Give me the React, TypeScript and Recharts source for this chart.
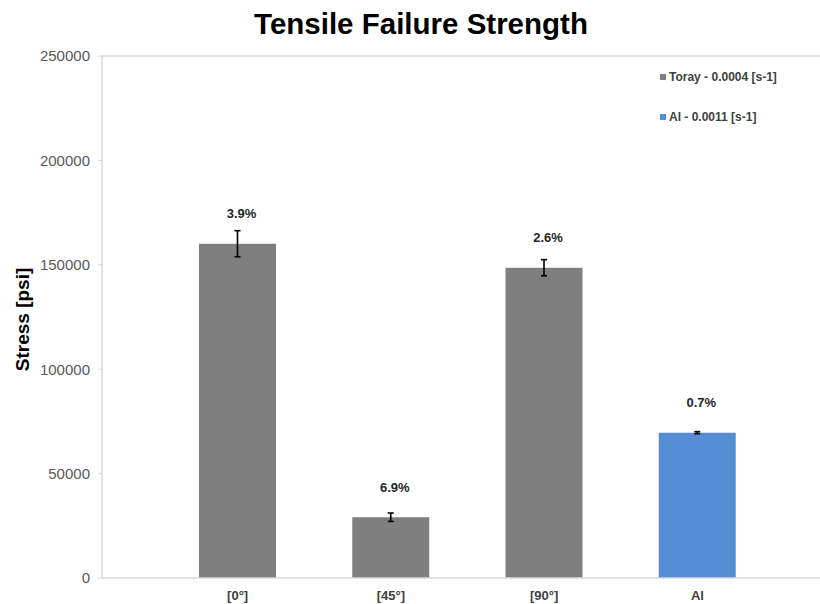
import React from 'react';
import {
  BarChart,
  Bar,
  XAxis,
  YAxis,
  ErrorBar,
  LabelList,
  Legend,
  ReferenceLine,
  Cell,
} from 'recharts';

// Specimen groups along the x axis
const categories = ['[0°]', '[45°]', '[90°]', 'Al'];
// Mean tensile failure stress, psi
const stressPsi = [160100, 29100, 148600, 69600];
// Standard deviation of the failure stress, psi
const stressStdDev = [6240, 2010, 3860, 490];
// Coefficient of variation shown above each bar
const variationLabels = ['3.9%', '6.9%', '2.6%', '0.7%'];
// Which material series each bar belongs to
const seriesOfBar = ['toray', 'toray', 'toray', 'al'];
// Legend entries
const seriesKeys = ['toray', 'al'];
const seriesNames = ['Toray - 0.0004 [s-1]', 'Al - 0.0011 [s-1]'];
// Stress axis ticks
const yTicks = [0, 50000, 100000, 150000, 200000, 250000];

const FONT = '"Liberation Sans", Arial, Helvetica, sans-serif';
const COLORS: Record<string, string> = { toray: '#7f7f7f', al: '#558ed5' };
const AXIS_GRAY = '#d9d9d9';

const data = categories.map((name, i) => ({
  name,
  stress: stressPsi[i],
  sd: stressStdDev[i],
  cv: variationLabels[i],
  series: seriesOfBar[i],
}));

const renderLegend = () => (
  <div style={{ fontFamily: FONT, fontSize: 12, fontWeight: 700, color: '#404040' }}>
    {seriesNames.map((name, i) => (
      <div
        key={name}
        style={{ display: 'flex', alignItems: 'center', height: 16, marginBottom: i === 0 ? 24 : 0 }}
      >
        <span
          style={{
            display: 'inline-block',
            width: 6,
            height: 6,
            background: COLORS[seriesKeys[i]],
            marginRight: 3,
          }}
        />
        <span style={{ whiteSpace: 'nowrap' }}>{name}</span>
      </div>
    ))}
  </div>
);

const renderVariation = (props: any) => {
  const { x, y, width, value } = props;
  return (
    <text
      x={Number(x) + Number(width) / 2 + 4}
      y={Number(y) - 30}
      textAnchor="middle"
      dominantBaseline="central"
      fontFamily={FONT}
      fontSize={13}
      fontWeight={700}
      fill="#262626"
    >
      {value}
    </text>
  );
};

const renderYTitle = () => (
  <text
    x={28.5}
    y={319.5}
    transform="rotate(-90, 28.5, 319.5)"
    textAnchor="middle"
    fontFamily={FONT}
    fontSize={19}
    fontWeight={700}
    fill="#000"
  >
    Stress [psi]
  </text>
);

export default function App() {
  return (
    <div
      style={{
        position: 'absolute',
        left: 0,
        top: 0,
        width: 820,
        height: 604,
        background: '#fff',
      }}
    >
      <div
        style={{
          position: 'absolute',
          left: 0,
          top: 9,
          width: 842,
          textAlign: 'center',
          fontFamily: FONT,
          fontSize: 29.5,
          lineHeight: '30px',
          fontWeight: 700,
          color: '#000',
          zIndex: 2,
        }}
      >
        Tensile Failure Strength
      </div>
      <BarChart
        width={820}
        height={604}
        data={data}
        margin={{ top: 56, right: 0, bottom: 0, left: 0 }}
      >
        <ReferenceLine y={250000} stroke={AXIS_GRAY} strokeWidth={1.5} />
        <XAxis
          dataKey="name"
          height={26}
          padding={{ left: 59, right: 46 }}
          tickLine={false}
          tickSize={0}
          tickMargin={13}
          axisLine={{ stroke: AXIS_GRAY, strokeWidth: 1.5 }}
          tick={{ fill: '#404040', fontSize: 13, fontWeight: 700, fontFamily: FONT }}
        />
        <YAxis
          width={102}
          domain={[0, 250000]}
          ticks={yTicks}
          interval={0}
          tickSize={4}
          tickMargin={8}
          axisLine={{ stroke: AXIS_GRAY, strokeWidth: 1.5 }}
          tickLine={{ stroke: AXIS_GRAY }}
          tick={{ fill: '#595959', fontSize: 15, fontFamily: FONT }}
          label={{ content: renderYTitle }}
        />
        <Legend
          layout="vertical"
          align="center"
          verticalAlign="middle"
          wrapperStyle={{ top: 69, left: 660, width: 160 }}
          content={renderLegend}
        />
        <Bar dataKey="stress" barSize={77} isAnimationActive={false}>
          {data.map((d) => (
            <Cell key={d.name} fill={COLORS[d.series]} />
          ))}
          <ErrorBar dataKey="sd" width={3} strokeWidth={1.6} stroke="#000" direction="y" />
          <LabelList dataKey="cv" content={renderVariation} />
        </Bar>
      </BarChart>
    </div>
  );
}
